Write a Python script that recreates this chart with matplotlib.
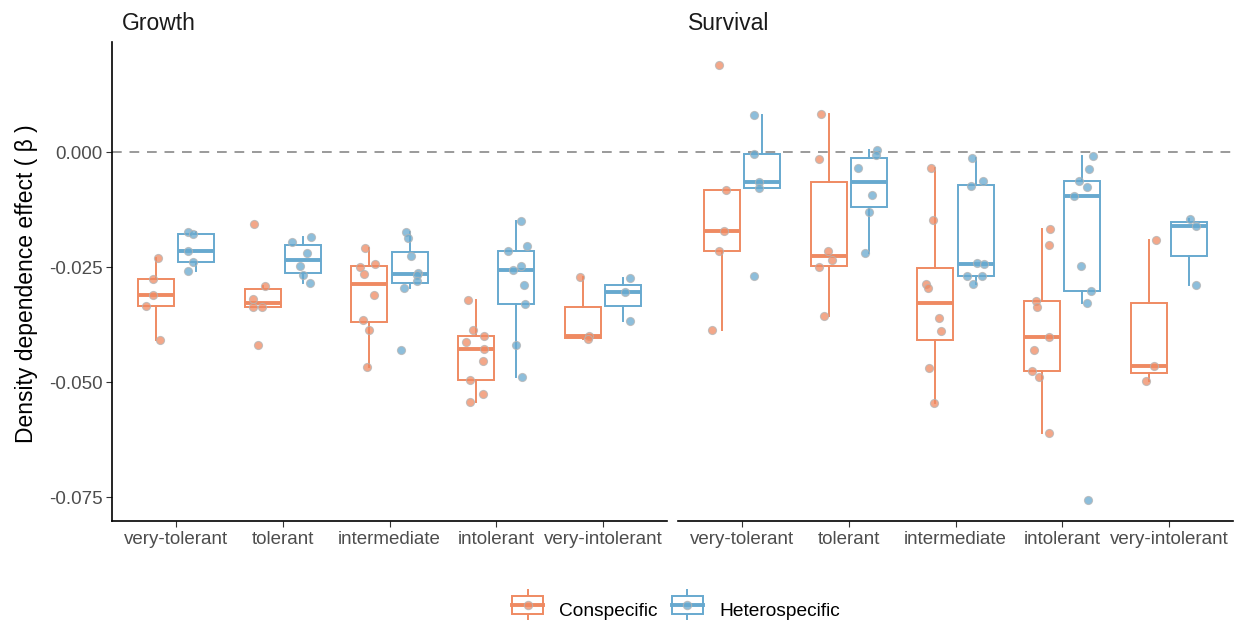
import matplotlib
matplotlib.use("Agg")
import matplotlib.pyplot as plt
from matplotlib.legend_handler import HandlerBase
from matplotlib.patches import Rectangle
from matplotlib.lines import Line2D

plt.rcParams['font.family'] = ['Liberation Sans', 'DejaVu Sans']

CATEGORIES = ["very-tolerant", "tolerant", "intermediate", "intolerant", "very-intolerant"]
GROUPS = ["Conspecific", "Heterospecific"]
COLORS = {"Conspecific": "#EF8A62", "Heterospecific": "#67A9CF"}

# effects per category, and the jitter offsets seen in it
growth_con = [
    [-0.0229, -0.0275, -0.0311, -0.0334, -0.0408],
    [-0.0155, -0.0291, -0.0318, -0.0337, -0.0336, -0.0420],
    [-0.0209, -0.0249, -0.0243, -0.0264, -0.0311, -0.0364, -0.0386, -0.0466],
    [-0.0321, -0.0387, -0.0400, -0.0413, -0.0428, -0.0453, -0.0495, -0.0526, -0.0543],
    [-0.0271, -0.0400, -0.0406],
]
growth_con_jit = [
    [0.02, -0.03, -0.03, -0.09, 0.04],
    [-0.08, 0.02, -0.09, -0.09, -0.01, -0.04],
    [-0.04, -0.09, 0.05, -0.05, 0.04, -0.06, 0.00, -0.02],
    [-0.08, -0.03, 0.07, -0.10, 0.07, 0.06, -0.06, 0.06, -0.06],
    [-0.03, 0.06, 0.05],
]
growth_het = [
    [-0.0173, -0.0177, -0.0214, -0.0238, -0.0258],
    [-0.0196, -0.0185, -0.0220, -0.0248, -0.0267, -0.0285],
    [-0.0174, -0.0186, -0.0226, -0.0262, -0.0266, -0.0280, -0.0296, -0.0429],
    [-0.0150, -0.0204, -0.0214, -0.0248, -0.0257, -0.0288, -0.0329, -0.0420, -0.0489],
    [-0.0274, -0.0304, -0.0366],
]
growth_het_jit = [
    [-0.08, -0.03, -0.08, -0.03, -0.08],
    [-0.10, 0.08, 0.04, -0.03, 0.00, 0.07],
    [-0.03, -0.01, 0.01, 0.08, 0.07, 0.07, -0.05, -0.08],
    [0.04, 0.10, -0.08, 0.04, -0.03, 0.07, 0.08, 0.00, 0.05],
    [0.07, 0.02, 0.07],
]
surv_con = [
    [0.0191, -0.0082, -0.0171, -0.0214, -0.0386],
    [0.0084, -0.0014, -0.0214, -0.0235, -0.0250, -0.0357],
    [-0.0035, -0.0148, -0.0287, -0.0296, -0.0360, -0.0389, -0.0470, -0.0546],
    [-0.0166, -0.0201, -0.0323, -0.0336, -0.0401, -0.0429, -0.0476, -0.0488, -0.0611],
    [-0.0191, -0.0464, -0.0498],
]
surv_con_jit = [
    [-0.03, 0.04, 0.02, -0.03, -0.09],
    [-0.07, -0.09, -0.01, 0.03, -0.09, -0.04],
    [-0.04, -0.02, -0.09, -0.07, 0.03, 0.05, -0.06, -0.01],
    [0.07, 0.06, -0.06, -0.05, 0.06, -0.08, -0.10, -0.03, 0.06],
    [0.07, 0.05, -0.03],
]
surv_het = [
    [0.0082, -0.0004, -0.0064, -0.0078, -0.0270],
    [0.0004, -0.0006, -0.0035, -0.0092, -0.0129, -0.0219],
    [-0.0012, -0.0062, -0.0073, -0.0240, -0.0244, -0.0268, -0.0270, -0.0286],
    [-0.0008, -0.0036, -0.0062, -0.0076, -0.0094, -0.0247, -0.0301, -0.0328, -0.0756],
    [-0.0145, -0.0160, -0.0289],
]
surv_het_jit = [
    [-0.08, -0.08, -0.03, -0.03, -0.08],
    [0.08, 0.07, -0.10, 0.03, 0.00, -0.04],
    [-0.03, 0.07, -0.04, 0.01, 0.08, 0.06, -0.08, -0.02],
    [0.10, 0.06, -0.03, 0.04, -0.08, -0.01, 0.08, 0.04, 0.05],
    [0.01, 0.07, 0.07],
]

YTICKS = [0.0, -0.025, -0.050, -0.075]

PANELS = {
    "Growth": {"Conspecific": (growth_con, growth_con_jit),
               "Heterospecific": (growth_het, growth_het_jit)},
    "Survival": {"Conspecific": (surv_con, surv_con_jit),
                 "Heterospecific": (surv_het, surv_het_jit)},
}

DODGE = 0.1875
BOXW = 0.3375
LW = 1.4


class BoxKey(HandlerBase):
    def create_artists(self, legend, orig, xd, yd, w, h, fontsize, trans):
        c = orig.get_color()
        cx, cy = xd + w / 2, yd + h / 2
        whisk = Line2D([cx, cx], [yd - h * 0.35, yd + h * 1.35], color=c, lw=LW, transform=trans)
        box = Rectangle((xd, yd - h * 0.05), w, h * 1.1, fc='white', ec=c, lw=LW, transform=trans)
        med = Line2D([xd, xd + w], [cy, cy], color=c, lw=LW * 2, transform=trans)
        dot = Line2D([cx], [cy], marker='o', ms=6, mfc=c, mec='#b5b5b5', mew=0.8,
                     alpha=0.75, ls='', transform=trans)
        return [whisk, box, med, dot]


fig = plt.figure(figsize=(12.36, 6.2), dpi=100)
W, H = 1236, 620
top, bottom = 42, 521
axes_px = {"Growth": (112, 667), "Survival": (678, 1233)}

for name, (x0, x1) in axes_px.items():
    ax = fig.add_axes([x0 / W, 1 - bottom / H, (x1 - x0) / W, (bottom - top) / H])
    ax.axhline(0, color='#9a9a9a', ls=(0, (5, 4)), lw=LW, zorder=0)
    for gi, grp in enumerate(GROUPS):
        vals, jit = PANELS[name][grp]
        c = COLORS[grp]
        off = -DODGE if gi == 0 else DODGE
        pos = [k + 1 + off for k in range(len(CATEGORIES))]
        ax.boxplot(vals, positions=pos, widths=BOXW, showfliers=False, showcaps=False,
                   patch_artist=True, manage_ticks=False,
                   boxprops=dict(facecolor='none', edgecolor=c, linewidth=LW),
                   whiskerprops=dict(color=c, linewidth=LW),
                   medianprops=dict(color=c, linewidth=LW * 2, solid_capstyle='butt'),
                   zorder=2)
        for k in range(len(CATEGORIES)):
            xs = [pos[k] + j for j in jit[k]]
            ax.scatter(xs, vals[k], s=34, color=c, alpha=0.75, edgecolors='#b5b5b5',
                       linewidths=0.8, zorder=3)
    ax.set_xlim(0.4, 5.6)
    ax.set_ylim(-0.0802, 0.024)
    ax.set_xticks(range(1, 6))
    ax.set_xticklabels(CATEGORIES, fontsize=13.5, color='#4D4D4D')
    ax.tick_params(axis='both', length=4, width=0.8, color='#333333', pad=3)
    for s in ['top', 'right']:
        ax.spines[s].set_visible(False)
    ax.spines['bottom'].set_linewidth(1.2)
    ax.spines['left'].set_linewidth(1.2)
    if name == "Growth":
        ax.set_yticks(YTICKS)
        ax.set_yticklabels([f"{v:.3f}" for v in YTICKS], fontsize=13.5, color='#4D4D4D')
    else:
        ax.spines['left'].set_visible(False)
        ax.set_yticks([])
    ax.text(10 / (x1 - x0), 1 + 12 / (bottom - top), name, transform=ax.transAxes,
            ha='left', va='baseline', fontsize=16.5, color='#1A1A1A')

fig.text(27 / W, 1 - 284 / H, "Density dependence effect ( β )", rotation=90,
         ha='center', va='center', fontsize=16.5, color='black')

handles = [Line2D([], [], color=COLORS[g]) for g in GROUPS]
fig.legend(handles, GROUPS, loc='center', bbox_to_anchor=(0.547, 0.016), ncol=2,
           frameon=False, fontsize=13.8, handler_map={Line2D: BoxKey()},
           handlelength=1.6, handleheight=1.0, columnspacing=0.75, handletextpad=0.85)

fig.savefig("out.png", dpi=100)
